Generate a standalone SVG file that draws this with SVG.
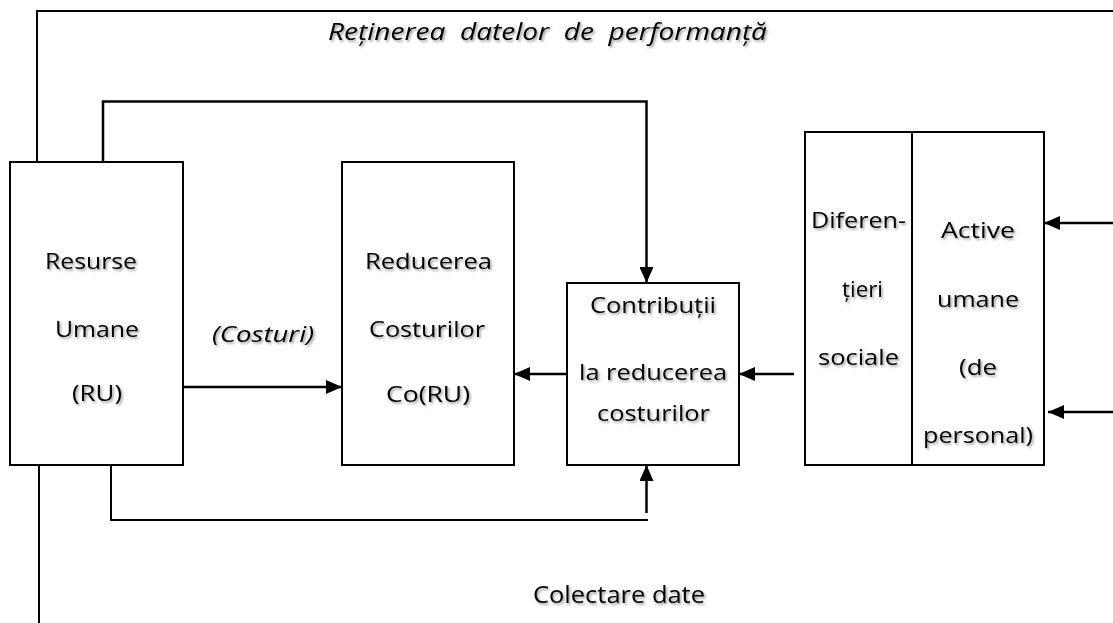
<svg xmlns="http://www.w3.org/2000/svg" width="1113" height="623" viewBox="0 0 1113 623">
<defs>
<style>
.box{fill:#fff;stroke:#000;stroke-width:2}
.ln{fill:none;stroke:#000;stroke-width:2}
.ar{fill:none;stroke:#000;stroke-width:2.5}
text{font-family:"Open Sans","Noto Sans","Liberation Sans",sans-serif;font-size:22.5px;fill:#000;filter:url(#sh)}
.it{font-style:italic}
.big{font-size:24px}
.ttl{font-size:23px}
</style>
<filter id="sh" x="-10%" y="-30%" width="120%" height="160%">
<feDropShadow dx="1.5" dy="1.8" stdDeviation="0.9" flood-color="#000" flood-opacity="0.4"/>
</filter>
<marker id="ah" markerWidth="16" markerHeight="14" refX="16" refY="7" orient="auto" markerUnits="userSpaceOnUse">
<path d="M0,0 L16,7 L0,14 Z" fill="#000"/>
</marker>
</defs>
<rect width="1113" height="623" fill="#fff"/>
<g id="connectors">
<path class="ln" d="M37,162 V11 H1113"/>
<path class="ar" d="M103,162 V101.5 H646.5 V283" marker-end="url(#ah)"/>
<path class="ar" d="M183,387 H342" marker-end="url(#ah)"/>
<path class="ar" d="M567,374 H514" marker-end="url(#ah)"/>
<path class="ar" d="M794,374 H739" marker-end="url(#ah)"/>
<path class="ar" d="M1113,223 H1044" marker-end="url(#ah)"/>
<path class="ar" d="M1113,412 H1048" marker-end="url(#ah)"/>
<path class="ln" d="M111,465 V520 H648"/>
<path class="ar" d="M646.5,513 V465" marker-end="url(#ah)"/>
<path class="ln" d="M39,465 V623"/>
</g>
<g id="title">
<text class="it ttl" x="328" y="40" textLength="439" lengthAdjust="spacingAndGlyphs" xml:space="preserve">Reținerea  datelor  de  performanță</text>
</g>
<g id="resurse-umane">
<rect class="box" x="10" y="162" width="173" height="303"/>
<text x="45" y="269" textLength="92" lengthAdjust="spacingAndGlyphs">Resurse</text>
<text x="55" y="337" textLength="84" lengthAdjust="spacingAndGlyphs">Umane</text>
<text x="72" y="401" textLength="50" lengthAdjust="spacingAndGlyphs">(RU)</text>
</g>
<g id="costuri-label">
<text class="it" x="212" y="342" textLength="102" lengthAdjust="spacingAndGlyphs">(Costuri)</text>
</g>
<g id="reducerea-costurilor">
<rect class="box" x="342" y="162" width="172" height="303"/>
<text x="365" y="269" textLength="127" lengthAdjust="spacingAndGlyphs">Reducerea</text>
<text x="369" y="337" textLength="116" lengthAdjust="spacingAndGlyphs">Costurilor</text>
<text x="386" y="402" textLength="84" lengthAdjust="spacingAndGlyphs">Co(RU)</text>
</g>
<g id="contributii">
<rect class="box" x="567" y="283" width="172" height="182"/>
<text x="590" y="313" textLength="126" lengthAdjust="spacingAndGlyphs">Contribuții</text>
<text x="579" y="380" textLength="148" lengthAdjust="spacingAndGlyphs">la reducerea</text>
<text x="597" y="421" textLength="113" lengthAdjust="spacingAndGlyphs">costurilor</text>
</g>
<g id="diferentieri-sociale">
<rect class="box" x="805" y="132" width="107" height="333"/>
<text x="811" y="228" textLength="95" lengthAdjust="spacingAndGlyphs">Diferen-</text>
<text x="842" y="297" textLength="41" lengthAdjust="spacingAndGlyphs">țieri</text>
<text x="818" y="365" textLength="81" lengthAdjust="spacingAndGlyphs">sociale</text>
</g>
<g id="active-umane">
<rect class="box" x="912" y="132" width="132" height="333"/>
<text x="941" y="238" textLength="74" lengthAdjust="spacingAndGlyphs">Active</text>
<text x="937" y="307" textLength="82" lengthAdjust="spacingAndGlyphs">umane</text>
<text x="959" y="375" textLength="38" lengthAdjust="spacingAndGlyphs">(de</text>
<text x="923" y="443" textLength="110" lengthAdjust="spacingAndGlyphs">personal)</text>
</g>
<g id="colectare">
<text class="big" x="533" y="603" textLength="172" lengthAdjust="spacingAndGlyphs">Colectare date</text>
</g>
</svg>
